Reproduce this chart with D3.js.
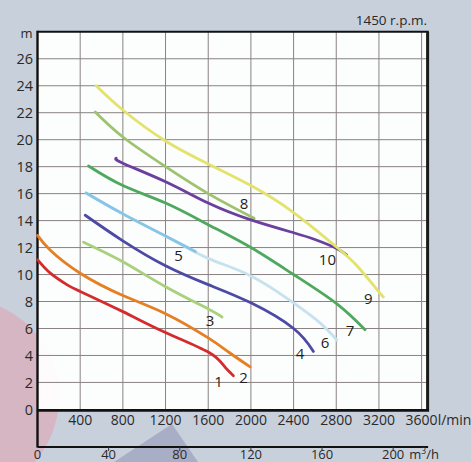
<!DOCTYPE html>
<html>
<head>
<meta charset="utf-8">
<script src="https://cdn.jsdelivr.net/npm/d3@7"></script>
<style>
  html, body { margin: 0; padding: 0; background: #c8d0dc; }
  svg { display: block; }
  text { font-family: "Open Sans", "DejaVu Sans", sans-serif; fill: #2a2a2a; }
</style>
</head>
<body>
<svg id="chart" width="471" height="462"></svg>
<script>
// Pump performance curves, head (m) against flow (l/min), 1450 r.p.m.
const flowTicks = [400, 800, 1200, 1600, 2000, 2400, 2800, 3200, 3600];
const headTicks = [0, 2, 4, 6, 8, 10, 12, 14, 16, 18, 20, 22, 24, 26];
const m3hTicks = [0, 40, 80, 120, 160, 200];

// [flow l/min, head m]
const curve1 = [[0, 11.1], [120, 10.1], [275, 9.25], [400, 8.75], [800, 7.25], [1200, 5.7], [1600, 4.25], [1750, 3.2], [1836, 2.5]];
const curve2 = [[0, 12.9], [120, 11.8], [400, 10.1], [800, 8.45], [1200, 7.1], [1600, 5.3], [1800, 4.2], [1993, 3.15]];
const curve3 = [[431, 12.4], [800, 10.95], [1200, 9.1], [1600, 7.45], [1730, 6.85]];
const curve4 = [[447, 14.4], [800, 12.5], [1200, 10.65], [1600, 9.25], [2000, 7.9], [2400, 6.0], [2586, 4.3]];
const curve5 = [[456, 16.05], [800, 14.5], [1200, 12.85], [1480, 11.7]];
const curve6 = [[456, 16.05], [800, 14.5], [1200, 12.85], [1600, 11.2], [2000, 9.9], [2400, 7.9], [2650, 6.4], [2805, 5.15]];
const curve7 = [[478, 18.05], [800, 16.6], [1200, 15.3], [1600, 13.7], [2000, 12.0], [2400, 10.0], [2800, 7.86], [3070, 5.9]];
const curve8 = [[541, 22.05], [800, 20.2], [1200, 18.0], [1600, 16.0], [2030, 14.17]];
const curve9 = [[550, 24.0], [800, 22.2], [1200, 19.9], [1600, 18.2], [2000, 16.6], [2400, 14.6], [2800, 12.06], [3000, 10.6], [3200, 8.72], [3241, 8.35]];
const curve10 = [[738, 18.62], [800, 18.25], [1200, 16.88], [1600, 15.3], [2000, 14.05], [2400, 13.1], [2600, 12.6], [2800, 11.95], [2898, 11.45]];

const curveNames = ["1", "2", "3", "4", "5", "6", "7", "8", "9", "10"];
// label anchor for each curve number, in [flow, head]
const labelAt = [[1696, 2.1], [1930, 2.42], [1618, 6.62], [2461, 4.15], [1321, 11.45],
                 [2695, 5.01], [2929, 5.88], [1936, 15.33], [3101, 8.23], [2717, 11.13]];

const curves = [curve1, curve2, curve3, curve4, curve5, curve6, curve7, curve8, curve9, curve10];
const colors = ["#d42c2c", "#e57f22", "#a9d07a", "#4c4aa4", "#86c5e6", "#c6e2ef",
                "#4ea95e", "#9dc36c", "#e3e36c", "#6a3f9e"];
const drawOrder = [0, 1, 2, 3, 5, 4, 6, 7, 9, 8];

const svg = d3.select("#chart");

const plotLeft = 37.5, plotRight = 427.6, plotTop = 31.8, plotBottom = 409.4;
const flowMax = 3656, headMax = 28;
const x = d3.scaleLinear().domain([0, flowMax]).range([plotLeft, plotRight]);
const y = d3.scaleLinear().domain([0, headMax]).range([plotBottom, plotTop]);
const xm3h = d3.scaleLinear().domain([0, flowMax * 60 / 1000]).range([plotLeft, plotRight]);

// background decoration
svg.append("circle").attr("cx", -40).attr("cy", 397).attr("r", 99).attr("fill", "#d7b6c4");
svg.append("path")
  .attr("d", d3.line()([[172, 424], [114, 462], [198, 462]]) + "Z")
  .attr("fill", "#a9aec7");

// plot field
svg.append("rect").attr("x", plotLeft).attr("y", plotTop)
  .attr("width", plotRight - plotLeft).attr("height", plotBottom - plotTop)
  .attr("fill", "#ffffff").attr("fill-opacity", 0.94);

// grid
const grid = svg.append("g").attr("stroke", "#8a8282").attr("stroke-width", 1);
grid.selectAll("line.v").data(flowTicks).join("line").attr("class", "v")
  .attr("x1", d => x(d)).attr("x2", d => x(d))
  .attr("y1", plotTop).attr("y2", plotBottom);
grid.selectAll("line.h").data(headTicks.filter(d => d > 0)).join("line").attr("class", "h")
  .attr("x1", plotLeft).attr("x2", plotRight)
  .attr("y1", d => y(d)).attr("y2", d => y(d));

// frame
svg.append("line").attr("x1", plotLeft).attr("x2", plotRight + 1.2).attr("y1", plotTop).attr("y2", plotTop)
  .attr("stroke", "#111").attr("stroke-width", 2);
svg.append("line").attr("x1", plotRight).attr("x2", plotRight).attr("y1", plotTop).attr("y2", plotBottom)
  .attr("stroke", "#1a1a1a").attr("stroke-width", 3);
svg.append("line").attr("x1", plotLeft).attr("x2", plotLeft).attr("y1", plotTop - 1).attr("y2", 447.5)
  .attr("stroke", "#111").attr("stroke-width", 2.4);
svg.append("line").attr("x1", plotLeft).attr("x2", plotRight + 1.5).attr("y1", plotBottom + 1).attr("y2", plotBottom + 1)
  .attr("stroke", "#111").attr("stroke-width", 2.8);

// curves
const line = d3.line().x(d => x(d[0])).y(d => y(d[1])).curve(d3.curveNatural);
const curveG = svg.append("g").attr("fill", "none").attr("stroke-linecap", "round").attr("stroke-width", 2.8);
drawOrder.forEach(i => {
  curveG.append("path").attr("d", line(curves[i])).attr("stroke", colors[i]);
});

// curve numbers
svg.append("g").selectAll("text").data(labelAt).join("text")
  .attr("x", d => x(d[0])).attr("y", d => y(d[1]))
  .attr("text-anchor", "middle").attr("dominant-baseline", "central")
  .style("font-size", "15px").style("fill", "#1e1e1e")
  .text((d, i) => curveNames[i]);

// head axis labels
const yl = svg.append("g").style("font-size", "14.5px");
yl.selectAll("text").data(headTicks).join("text")
  .attr("x", 33).attr("y", d => y(d))
  .attr("text-anchor", "end").attr("dominant-baseline", "central")
  .text(d => d);
yl.append("text").attr("x", 32.5).attr("y", y(headMax) + 1)
  .attr("text-anchor", "end").attr("dominant-baseline", "central")
  .style("font-size", "13px").text("m");

// flow axis labels (l/min)
const xl = svg.append("g").style("font-size", "14px");
xl.selectAll("text").data(flowTicks).join("text")
  .attr("x", d => x(d)).attr("y", 425)
  .attr("text-anchor", "middle")
  .text(d => d);
const last = xl.selectAll("text").filter(d => d === 3600).node();
const lastBox = last.getBBox();
xl.append("text").attr("x", lastBox.x + lastBox.width).attr("y", 425).text("l/min");

// flow axis labels (m³/h)
svg.append("line").attr("x1", plotLeft).attr("x2", plotRight + 0.5).attr("y1", 447).attr("y2", 447)
  .attr("stroke", "#111").attr("stroke-width", 1.8);
svg.append("g").selectAll("line").data(m3hTicks.filter(d => d > 0)).join("line")
  .attr("x1", d => xm3h(d)).attr("x2", d => xm3h(d))
  .attr("y1", 447).attr("y2", 451)
  .attr("stroke", "#333").attr("stroke-width", 1);
const ml = svg.append("g").style("font-size", "13px");
ml.selectAll("text").data(m3hTicks).join("text")
  .attr("x", d => xm3h(d)).attr("y", 458.5)
  .attr("text-anchor", "middle")
  .text(d => d);
const lastM = ml.selectAll("text").filter(d => d === 200).node().getBBox();
const unit = ml.append("text").attr("x", lastM.x + lastM.width + 5).attr("y", 458.5);
unit.append("tspan").text("m");
unit.append("tspan").attr("dy", -5).style("font-size", "8.5px").text("3");
unit.append("tspan").attr("dy", 5).text("/h");

// speed note
svg.append("text").attr("x", 427).attr("y", 25)
  .attr("text-anchor", "end").style("font-size", "13.5px")
  .text("1450 r.p.m.");
</script>
</body>
</html>
